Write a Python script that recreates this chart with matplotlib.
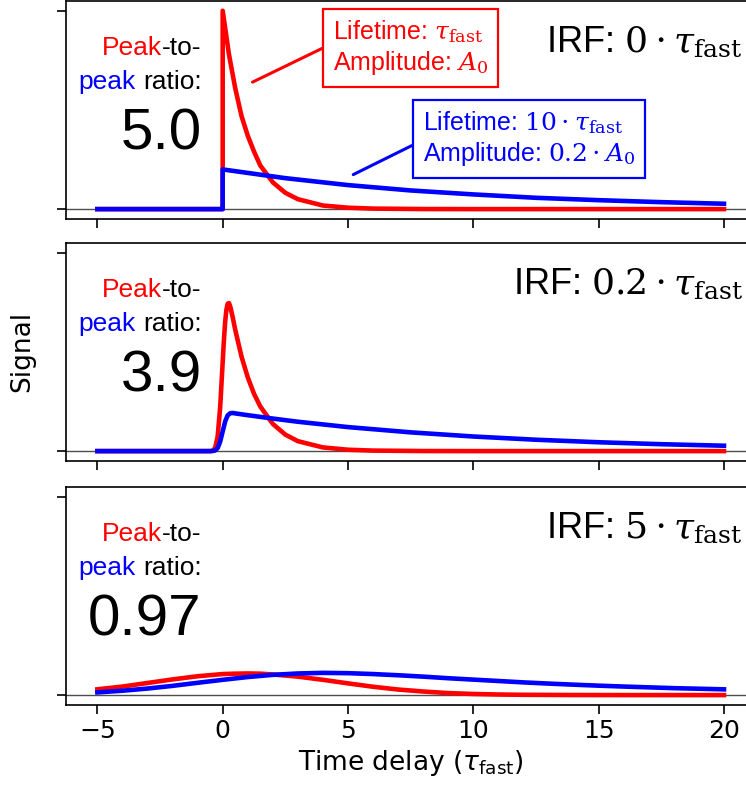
import matplotlib.pyplot as plt

plt.rcParams['font.family'] = ['DejaVu Sans']

# ---- data (signal in units of A0, time in tau_fast) ----
# panel 1, IRF = 0
x1_red = [-5, 0, 0, 0.25, 0.5, 0.75, 1, 1.25, 1.5, 2, 2.5, 3, 4, 5, 6, 8, 10, 20]
y1_red = [0, 0, 1.0, 0.78, 0.61, 0.47, 0.37, 0.29, 0.22, 0.135, 0.082, 0.05, 0.018, 0.007, 0.0025, 0.0003, 0, 0]
x1_blue = [-5, 0, 0, 2.5, 5, 7.5, 10, 12.5, 15, 17.5, 20]
y1_blue = [0, 0, 0.2, 0.156, 0.121, 0.094, 0.074, 0.057, 0.045, 0.035, 0.027]

# panel 2, IRF = 0.2
x2_red = [-5, -0.5, -0.4, -0.3, -0.2, -0.1, 0, 0.05, 0.1, 0.15, 0.2, 0.25, 0.3, 0.4, 0.5,
          0.75, 1, 1.25, 1.5, 2, 2.5, 3, 4, 5, 6, 8, 10, 20]
y2_red = [0, 0, 0.002, 0.016, 0.074, 0.221, 0.448, 0.561, 0.653, 0.714, 0.743, 0.746, 0.730,
          0.675, 0.612, 0.477, 0.372, 0.289, 0.225, 0.137, 0.083, 0.050, 0.0185, 0.0068, 0.0025,
          0.0003, 0, 0]
x2_blue = [-5, -0.5, -0.4, -0.3, -0.2, -0.1, 0, 0.1, 0.2, 0.3, 0.4, 0.5, 1, 2, 3, 5, 7.5, 10,
           12.5, 15, 17.5, 20]
y2_blue = [0, 0, 0.0005, 0.0034, 0.0156, 0.048, 0.099, 0.150, 0.180, 0.191, 0.192, 0.190, 0.181,
           0.164, 0.148, 0.121, 0.0945, 0.0736, 0.0573, 0.0446, 0.0348, 0.0271]

# panel 3, IRF = 5
x3_red = [-5, -4, -3, -2, -1, 0, 0.5, 1, 1.5, 2, 3, 4, 5, 6, 7, 8, 9, 10, 11, 12, 14, 16, 20]
y3_red = [0.029, 0.043, 0.061, 0.079, 0.095, 0.106, 0.108, 0.109, 0.108, 0.104, 0.093, 0.077,
          0.059, 0.042, 0.028, 0.018, 0.010, 0.0056, 0.0029, 0.0014, 0.0003, 0, 0]
x3_blue = [-5, -4, -3, -2, -1, 0, 1, 2, 3, 4, 5, 6, 7, 8, 9, 10, 11, 12, 13, 14, 15, 16, 18, 20]
y3_blue = [0.0135, 0.022, 0.033, 0.0465, 0.062, 0.077, 0.091, 0.102, 0.109, 0.112, 0.1105, 0.106,
           0.100, 0.093, 0.085, 0.078, 0.071, 0.064, 0.058, 0.0525, 0.0475, 0.043, 0.035, 0.029]

irf_labels = ['0', '0.2', '5']
ratios = ['5.0', '3.9', '0.97']
xticks = [-5, 0, 5, 10, 15, 20]

series = [(x1_red, y1_red, x1_blue, y1_blue),
          (x2_red, y2_red, x2_blue, y2_blue),
          (x3_red, y3_red, x3_blue, y3_blue)]

fig = plt.figure(figsize=(7.46, 7.95), dpi=100)
bottoms = [0.7245, 0.4201, 0.1132]
axes = []
for b in bottoms:
    axes.append(fig.add_axes([0.0885, b, 0.924, 0.2745]))

arial = 'Liberation Sans'
for i, ax in enumerate(axes):
    xr, yr, xb, yb = series[i]
    ax.axhline(0, color='0.3', lw=1, zorder=1)
    ax.plot(xr, yr, color='red', lw=3.3, zorder=2)
    ax.plot(xb, yb, color='blue', lw=3.3, zorder=3)
    ax.set_xlim(-6.25, 21.25)
    ax.set_ylim(-0.05, 1.05)
    ax.set_yticks([0, 1])
    ax.set_yticklabels([])
    ax.set_xticks(xticks)
    if i < 2:
        ax.set_xticklabels([])
    ax.tick_params(direction='out', length=6.5, width=1.2, labelsize=18)
    for sp in ax.spines.values():
        sp.set_linewidth(1.2)

    # "Peak-to-peak ratio:" with coloured words
    t1 = ax.text(-0.84, 0.81, '-to-', ha='right', va='center', fontsize=19, family=arial)
    ax.annotate('Peak', xy=(0, 0), xycoords=t1, ha='right', va='bottom',
                fontsize=19, family=arial, color='red')
    t2 = ax.text(-0.84, 0.64, 'ratio:', ha='right', va='center', fontsize=19, family=arial)
    ax.annotate('peak', xy=(0, 0), xycoords=t2, xytext=(-5, 0), textcoords='offset points',
                ha='right', va='bottom', fontsize=19, family=arial, color='blue')
    ax.text(-0.84, 0.375, ratios[i], ha='right', va='center', fontsize=42, family=arial)

    ax.text(20.75, 0.84, 'IRF: $' + irf_labels[i] + r' \cdot \tau_\mathrm{fast}$',
            ha='right', va='center', fontsize=26, family=arial, math_fontfamily='dejavuserif')

ax = axes[0]
ax.annotate('Lifetime: $\\tau_\\mathrm{fast}$\nAmplitude: $A_0$', xy=(1.19, 0.64),
            xytext=(7.48, 0.815), ha='center', va='center', multialignment='left',
            color='red', fontsize=18, family=arial, math_fontfamily='dejavuserif',
            bbox=dict(boxstyle='square,pad=0.4', fc='white', ec='red', lw=1.6),
            arrowprops=dict(arrowstyle='-', color='red', lw=2.2, relpos=(0, 0.57),
                            shrinkA=0, shrinkB=0))
ax.annotate('Lifetime: $10 \\cdot \\tau_\\mathrm{fast}$\nAmplitude: $0.2 \\cdot A_0$',
            xy=(5.21, 0.174), xytext=(12.21, 0.356), ha='center', va='center',
            multialignment='left', color='blue', fontsize=18, family=arial,
            math_fontfamily='dejavuserif',
            bbox=dict(boxstyle='square,pad=0.4', fc='white', ec='blue', lw=1.6),
            arrowprops=dict(arrowstyle='-', color='blue', lw=2.2, relpos=(0, 0.47),
                            shrinkA=0, shrinkB=0))

axes[1].set_ylabel('Signal', fontsize=19, labelpad=12)
axes[2].set_xlabel(r'Time delay ($\tau_\mathrm{fast}$)', fontsize=19)

plt.savefig('out.png', dpi=100)
